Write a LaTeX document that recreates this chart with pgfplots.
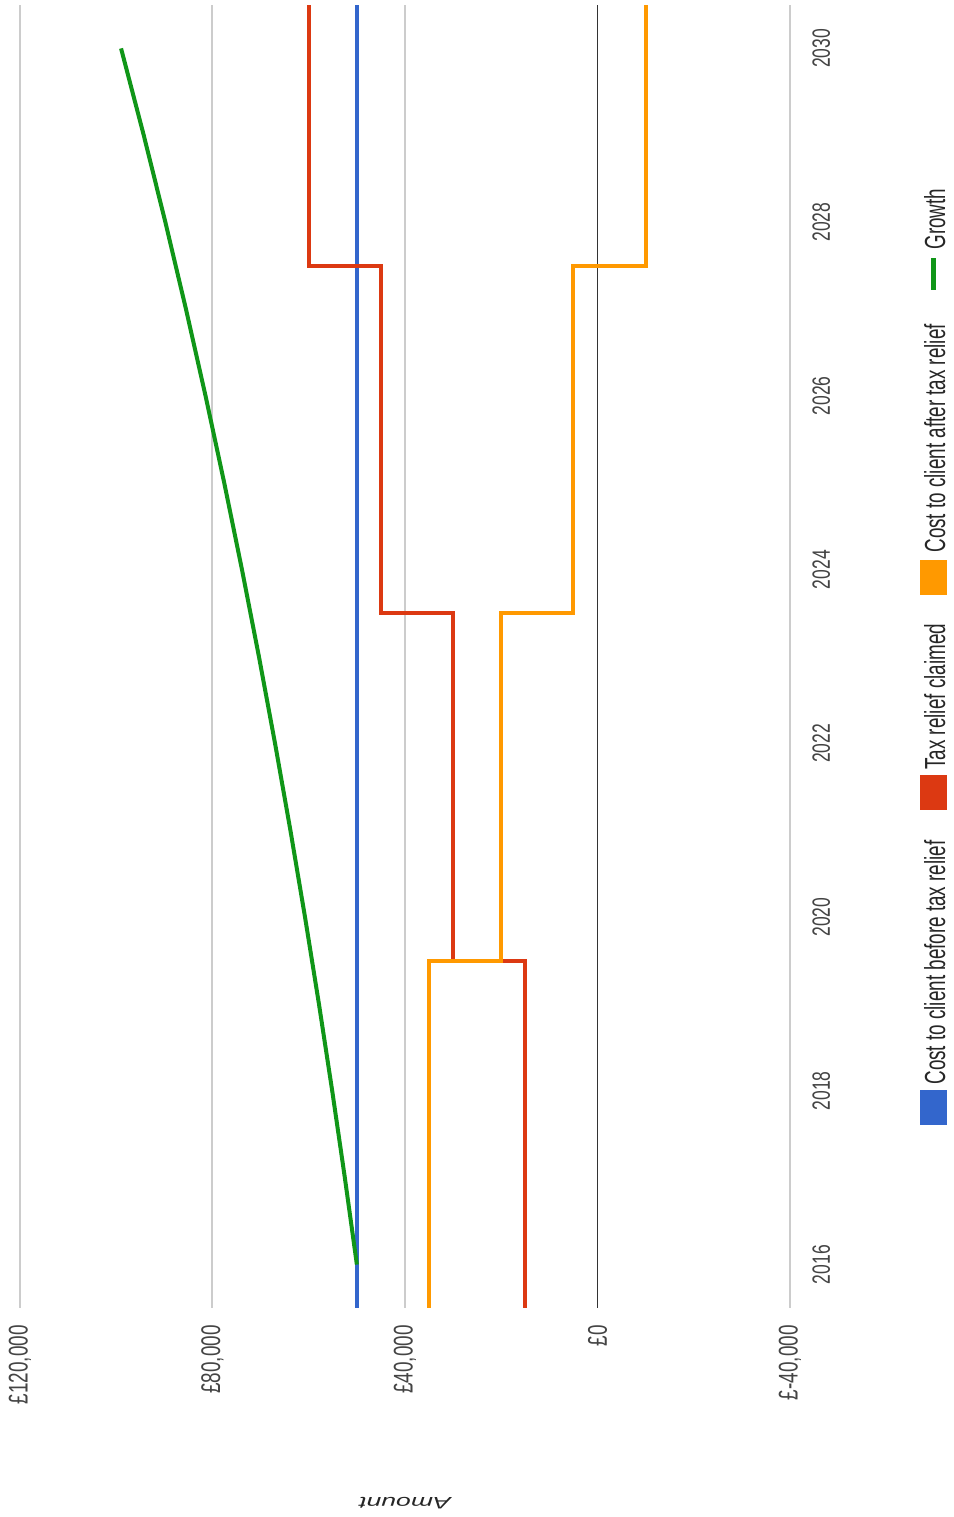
\documentclass[border=0pt]{standalone}
\usepackage{pgfplots}
\pgfplotsset{compat=1.18}
\usepackage{fontspec}
\setmainfont{Liberation Sans}
\newfontfamily\tickfont{Liberation Sans}[FakeStretch=0.7]
\newfontfamily\legfont{Liberation Sans}[FakeStretch=0.65]
\newfontfamily\labfont{Liberation Sans}[FakeStretch=1.6]
\definecolor{cblue}{HTML}{3366CC}
\definecolor{cred}{HTML}{DC3912}
\definecolor{corange}{HTML}{FF9900}
\definecolor{cgreen}{HTML}{109618}
\definecolor{cgrid}{HTML}{CCCCCC}
\definecolor{ctext}{HTML}{444444}
\tikzset{legtext/.style={rotate=90, anchor=base west, inner sep=0pt,
   font=\legfont\fontsize{14.5pt}{16pt}\selectfont, text=black!85}}
\begin{document}
\begin{tikzpicture}
\begin{axis}[
  name=ax,
  scale only axis,
  width=385pt, height=651.5pt,
  x dir=reverse,
  xmin=-40000, xmax=120000,
  ymin=2015.5, ymax=2030.5,
  axis line style={draw=none},
  major tick length=0pt,
  scaled x ticks=false,
  scaled y ticks=false,
  xtick={-40000,40000,80000,120000},
  xticklabels={{£-40,000},{£40,000},{£80,000},{£120,000}},
  extra x ticks={0},
  extra x tick labels={£0},
  extra x tick style={grid style={draw=black!80, line width=0.7pt}},
  xmajorgrids,
  grid style={draw=cgrid, line width=1pt},
  xticklabel style={yshift=-8.5pt, rotate=90, anchor=east, inner sep=0pt,
     font=\tickfont\fontsize{13.5pt}{15pt}\selectfont, text=ctext},
  ytick={2016,2018,...,2030},
  yticklabels={2016,2018,2020,2022,2024,2026,2028,2030},
  yticklabel pos=right,
  yticklabel style={xshift=11pt, rotate=90, anchor=north, inner sep=0pt,
     font=\tickfont\fontsize{12.5pt}{15pt}\selectfont, text=ctext},
  xlabel={Amount},
  xlabel style={at={(axis description cs:0.5,0)}, anchor=center, yshift=-97.5pt, rotate=180,
     font=\labfont\itshape\fontsize{8.3pt}{10pt}\selectfont, text=black!85},
]
\addplot[cblue, line width=2pt]
  coordinates {(50000,2015.5) (50000,2030.5)};
\addplot[cred, line width=2pt]
  coordinates {(15000,2015.5) (15000,2019.5) (30000,2019.5) (30000,2023.5)
               (45000,2023.5) (45000,2027.5) (60000,2027.5) (60000,2030.5)};
\addplot[corange, line width=2pt]
  coordinates {(35000,2015.5) (35000,2019.5) (20000,2019.5) (20000,2023.5)
               (5000,2023.5) (5000,2027.5) (-10000,2027.5) (-10000,2030.5)};
\addplot[cgreen, line width=2pt]
  coordinates {(50000,2016) (52500,2017) (55125,2018) (57881,2019) (60775,2020)
               (63814,2021) (67005,2022) (70355,2023) (73873,2024) (77566,2025)
               (81445,2026) (85517,2027) (89793,2028) (94282,2029) (98997,2030)};
\end{axis}
% legend (rotated, right of the plot)
\fill[cblue] ([xshift=450pt,yshift=91.5pt]ax.south west) rectangle ([xshift=463.5pt,yshift=109pt]ax.south west);
\node[legtext] at ([xshift=462.5pt,yshift=111.5pt]ax.south west) {Cost to client before tax relief};
\fill[cred] ([xshift=450pt,yshift=249pt]ax.south west) rectangle ([xshift=463.5pt,yshift=266.5pt]ax.south west);
\node[legtext] at ([xshift=462.5pt,yshift=269pt]ax.south west) {Tax relief claimed};
\fill[corange] ([xshift=450pt,yshift=356.5pt]ax.south west) rectangle ([xshift=463.5pt,yshift=374pt]ax.south west);
\node[legtext] at ([xshift=462.5pt,yshift=377.5pt]ax.south west) {Cost to client after tax relief};
\draw[cgreen, line width=2.5pt] ([xshift=456.5pt,yshift=509pt]ax.south west) -- ([xshift=456.5pt,yshift=525pt]ax.south west);
\node[legtext] at ([xshift=462.5pt,yshift=529pt]ax.south west) {Growth};
\pgfresetboundingbox
\path[use as bounding box] ([xshift=-10pt,yshift=-104.5pt]ax.south west) rectangle ([xshift=81.5pt,yshift=2.5pt]ax.north east);
\end{tikzpicture}
\end{document}
